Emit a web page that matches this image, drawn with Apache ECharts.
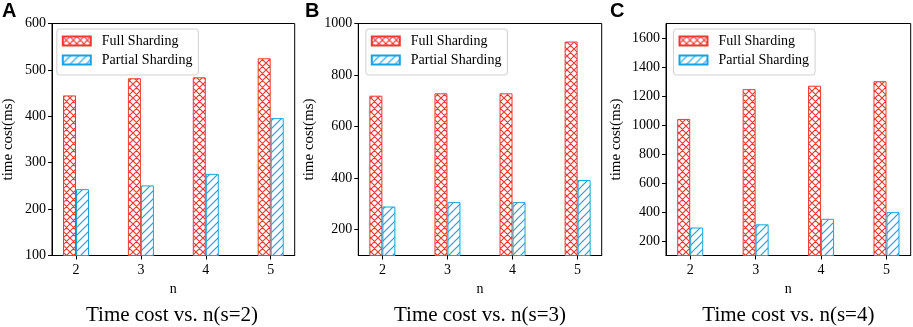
<!DOCTYPE html>
<html>
<head>
<meta charset="utf-8">
<script src="https://cdn.jsdelivr.net/npm/echarts@6/dist/echarts.min.js"></script>
<style>
  html, body { margin: 0; padding: 0; background: #fff; }
  #chart { width: 913px; height: 327px; }
</style>
</head>
<body>
<div id="chart"></div>
<script>
// data
const nValues = [2, 3, 4, 5];
const fullA = [445, 482, 484, 525];
const partialA = [243, 251, 276, 396];
const fullB = [720, 729, 729, 930];
const partialB = [290, 307, 307, 393];
const fullC = [1042, 1247, 1271, 1302];
const partialC = [293, 315, 353, 399];
const yTicksA = [100, 200, 300, 400, 500, 600];
const yTicksB = [200, 400, 600, 800, 1000];
const yTicksC = [200, 400, 600, 800, 1000, 1200, 1400, 1600];
const panelTitles = ['Time cost vs. n(s=2)', 'Time cost vs. n(s=3)', 'Time cost vs. n(s=4)'];
const panelLetters = ['A', 'B', 'C'];

const RED = '#ee3a33';
const BLUE = '#16a3e3';
const SERIF = '"Liberation Serif", "DejaVu Serif", serif';

// hatch tiles like matplotlib 'xx' and '//'
function hatchTile(kind, color) {
  const s = kind === 'x' ? 7 : 8;
  const c = document.createElement('canvas');
  c.width = s; c.height = s;
  const g = c.getContext('2d');
  g.fillStyle = '#fff';
  g.fillRect(0, 0, s, s);
  g.strokeStyle = color;
  g.lineWidth = 1.2;
  g.beginPath();
  g.moveTo(-1, s + 1); g.lineTo(s + 1, -1);
  g.moveTo(-1, 1); g.lineTo(1, -1);
  g.moveTo(s - 1, s + 1); g.lineTo(s + 1, s - 1);
  if (kind === 'x') {
    g.moveTo(-1, -1); g.lineTo(s + 1, s + 1);
    g.moveTo(s - 1, -1); g.lineTo(s + 1, 1);
    g.moveTo(-1, s - 1); g.lineTo(1, s + 1);
  }
  g.stroke();
  return c;
}
const crossFill = { image: hatchTile('x', RED), repeat: 'repeat' };
const slashFill = { image: hatchTile('/', BLUE), repeat: 'repeat' };

const panels = [
  { left: 49.3, width: 245.4, full: fullA, partial: partialA, min: 100, max: 600, ticks: yTicksA, nameGap: 36 },
  { left: 358.3, width: 243.4, full: fullB, partial: partialB, min: 100, max: 1000, ticks: yTicksB, nameGap: 42 },
  { left: 666, width: 244.7, full: fullC, partial: partialC, min: 100, max: 1700, ticks: yTicksC, nameGap: 42 }
];
const gridTop = 23.5, gridHeight = 232;
const plain = function (v) { return String(v); };

const grid = [], xAxis = [], yAxis = [], series = [], legend = [], graphic = [];

panels.forEach(function (p, i) {
  grid.push({
    left: p.left, top: gridTop, width: p.width, height: gridHeight,
    show: true, borderColor: '#000', borderWidth: 1, backgroundColor: 'transparent'
  });
  xAxis.push({
    type: 'value', gridIndex: i, min: 1.63, max: 5.37,
    name: 'n', nameLocation: 'middle', nameGap: 26,
    nameTextStyle: { fontFamily: SERIF, fontSize: 14, color: '#000' },
    axisLine: { lineStyle: { color: '#000', width: 1 } },
    axisTick: { show: true, length: 4, customValues: nValues, lineStyle: { color: '#000' } },
    axisLabel: { customValues: nValues, formatter: plain, margin: 8, fontFamily: SERIF, fontSize: 14, color: '#000' },
    splitLine: { show: false }
  });
  yAxis.push({
    type: 'value', gridIndex: i, min: p.min, max: p.max,
    name: 'time cost(ms)', nameLocation: 'middle', nameRotate: 90, nameGap: p.nameGap,
    nameTextStyle: { fontFamily: SERIF, fontSize: 15, color: '#000' },
    axisLine: { show: true, lineStyle: { color: '#000', width: 1 } },
    axisTick: { show: true, length: 4, customValues: p.ticks, lineStyle: { color: '#000' } },
    axisLabel: { customValues: p.ticks, formatter: plain, margin: 6, fontFamily: SERIF, fontSize: 14, color: '#000' },
    splitLine: { show: false }
  });
  series.push({
    name: 'Full Sharding', type: 'bar', xAxisIndex: i, yAxisIndex: i,
    data: nValues.map(function (n, k) { return [n, p.full[k]]; }),
    barWidth: 13, barGap: '0%', clip: true,
    itemStyle: { color: crossFill, borderColor: RED, borderWidth: 1 }
  });
  series.push({
    name: 'Partial Sharding', type: 'bar', xAxisIndex: i, yAxisIndex: i,
    data: nValues.map(function (n, k) { return [n, p.partial[k]]; }),
    barWidth: 13, barGap: '0%', clip: true,
    itemStyle: { color: slashFill, borderColor: BLUE, borderWidth: 1 }
  });
  legend.push({
    orient: 'vertical', left: p.left + 7.5, top: 29,
    data: ['Full Sharding', 'Partial Sharding'],
    icon: 'rect', itemWidth: 28, itemHeight: 9, itemGap: 5,
    padding: [5, 6, 8, 5],
    borderColor: '#d0d0d0', borderWidth: 1, borderRadius: 3, backgroundColor: '#fff',
    textStyle: { fontFamily: SERIF, fontSize: 14, color: '#000', padding: [0, 0, 0, 6] },
    selectedMode: false
  });
  graphic.push({
    type: 'text', x: p.left + p.width / 2, y: 315,
    style: { text: panelTitles[i], fontFamily: SERIF, fontSize: 21, fill: '#000', align: 'center', verticalAlign: 'middle' }
  });
  graphic.push({
    type: 'text', x: [2, 305, 610][i], y: 11,
    style: { text: panelLetters[i], fontFamily: '"Liberation Sans", Arial, sans-serif', fontWeight: 'bold', fontSize: 20, fill: '#000', align: 'left', verticalAlign: 'middle' }
  });
});

const chart = echarts.init(document.getElementById('chart'), null, { renderer: 'canvas' });
chart.setOption({
  animation: false,
  backgroundColor: '#fff',
  grid: grid,
  xAxis: xAxis,
  yAxis: yAxis,
  legend: legend,
  series: series,
  graphic: graphic
});
</script>
</body>
</html>
